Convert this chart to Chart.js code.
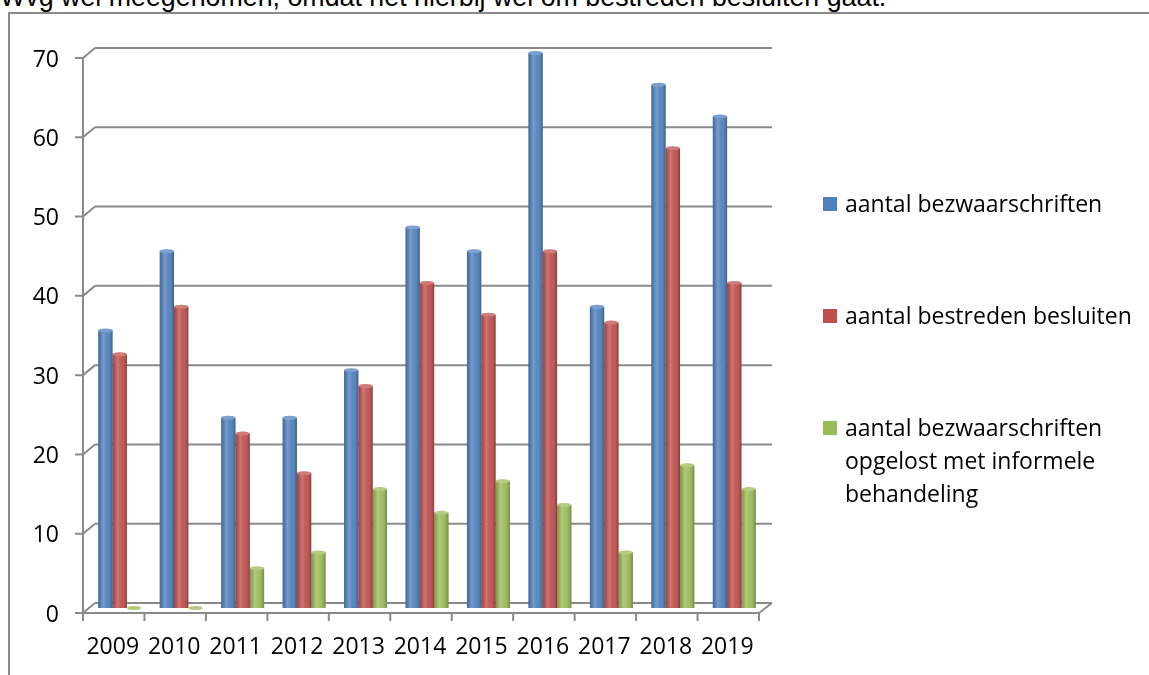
<!DOCTYPE html>
<html>
<head>
<meta charset="utf-8">
<script src="https://cdn.jsdelivr.net/npm/chart.js@4.4.1/dist/chart.umd.min.js"></script>
<style>
  html, body { margin: 0; padding: 0; background: #fff; overflow: hidden; }
  #wrap { position: relative; width: 1149px; height: 675px; overflow: hidden; }
  #title { position: absolute; left: 0; top: -18px; font: 26.8px "Liberation Sans", Arial, sans-serif; line-height: 30px; color: #000; white-space: nowrap; }
  #frame { position: absolute; left: 8px; top: 12px; width: 1300px; height: 800px; border: 2px solid #8a8a8a; box-sizing: border-box; }
  #chartBox { position: absolute; left: 0; top: 0; width: 1149px; height: 675px; }
  .leg { position: absolute; left: 823px; font: 23px "Open Sans", sans-serif; color: #000; line-height: 33px; }
  .leg i { position: absolute; left: 0; top: 10px; width: 14px; height: 14px; }
  .leg span { display: block; margin-left: 22px; }
</style>
</head>
<body>
<div id="wrap">
  <div id="frame"></div>
  <div id="title">Wvg wel meegenomen, omdat het hierbij wel om bestreden besluiten gaat.</div>
  <div id="chartBox"><canvas id="c"></canvas></div>
  <div id="legend"></div>
</div>
<script>
// data
const years = ['2009', '2010', '2011', '2012', '2013', '2014', '2015', '2016', '2017', '2018', '2019'];
const bezwaarschriften = [35, 45, 24, 24, 30, 48, 45, 70, 38, 66, 62];
const bestredenBesluiten = [32, 38, 22, 17, 28, 41, 37, 45, 36, 58, 41];
const informeelOpgelost = [0, 0, 5, 7, 15, 12, 16, 13, 7, 18, 15];
const yTicks = [0, 10, 20, 30, 40, 50, 60, 70];

const seriesNames = ['aantal bezwaarschriften', 'aantal bestreden besluiten', 'aantal bezwaarschriften opgelost met informele behandeling'];
const colors = ['#4F81BD', '#C0504D', '#9BBB59'];

// legend (html, because of the wrapped text and wide spacing)
const legendTops = [187, 299, 411];
const legendLines = [['aantal bezwaarschriften'], ['aantal bestreden besluiten'], ['aantal bezwaarschriften', 'opgelost met informele', 'behandeling']];
const legendEl = document.getElementById('legend');
legendLines.forEach((lines, i) => {
    const d = document.createElement('div');
    d.className = 'leg';
    d.style.top = legendTops[i] + 'px';
    d.innerHTML = '<i style="background:' + colors[i] + '"></i>' + lines.map(l => '<span>' + l + '</span>').join('');
    legendEl.appendChild(d);
});

const frontDx = -6, frontDy = 5;   // front plane offset
const backDx = 6, backDy = -5;     // back wall offset
const lineColor = '#8a8a8a';

// fake 3D walls, floor and ticks
const wallPlugin = {
    id: 'wall',
    beforeDatasetsDraw(chart) {
        const ctx = chart.ctx;
        const ca = chart.chartArea;
        const ys = chart.scales.y;
        ctx.save();
        ctx.strokeStyle = lineColor;
        ctx.lineWidth = 2;
        ctx.beginPath();
        yTicks.forEach(v => {
            const py = ys.getPixelForValue(v);
            ctx.moveTo(ca.left + backDx, py + backDy);
            ctx.lineTo(ca.right + backDx + 1, py + backDy);
            ctx.moveTo(ca.left + frontDx, py + frontDy);
            ctx.lineTo(ca.left + backDx, py + backDy);
            ctx.moveTo(ca.left + frontDx - 8, py + frontDy);
            ctx.lineTo(ca.left + frontDx, py + frontDy);
        });
        const y0 = ys.getPixelForValue(0);
        const yTop = ys.getPixelForValue(yTicks[yTicks.length - 1]);
        ctx.moveTo(ca.left + frontDx, yTop + frontDy);
        ctx.lineTo(ca.left + frontDx, y0 + frontDy);
        ctx.moveTo(ca.left + frontDx, y0 + frontDy);
        ctx.lineTo(ca.right + frontDx, y0 + frontDy);
        ctx.lineTo(ca.right + backDx + 1, y0 + backDy);
        const n = years.length;
        const step = (ca.right - ca.left) / n;
        for (let i = 0; i <= n; i++) {
            const px = ca.left + frontDx + i * step;
            ctx.moveTo(px, y0 + frontDy);
            ctx.lineTo(px, y0 + frontDy + 8);
        }
        ctx.stroke();
        ctx.restore();
    },
    afterDatasetsDraw(chart) {
        // cylinder-ish shading and top caps
        const ctx = chart.ctx;
        ctx.save();
        chart.data.datasets.forEach((ds, di) => {
            const meta = chart.getDatasetMeta(di);
            meta.data.forEach(bar => {
                const w = bar.width;
                const l = bar.x - w / 2;
                const h = bar.base - bar.y;
                if (h > 0) {
                    const g = ctx.createLinearGradient(l, 0, l + w, 0);
                    g.addColorStop(0, 'rgba(0,0,0,0.18)');
                    g.addColorStop(0.35, 'rgba(255,255,255,0.22)');
                    g.addColorStop(0.6, 'rgba(255,255,255,0.05)');
                    g.addColorStop(1, 'rgba(0,0,0,0.28)');
                    ctx.fillStyle = g;
                    ctx.fillRect(l, bar.y, w, h);
                }
                ctx.beginPath();
                ctx.ellipse(bar.x, bar.y, w / 2, 2, 0, 0, Math.PI * 2);
                ctx.fillStyle = colors[di];
                ctx.fill();
                ctx.fillStyle = 'rgba(255,255,255,0.25)';
                ctx.fill();
            });
        });
        ctx.restore();
    }
};

new Chart(document.getElementById('c'), {
    type: 'bar',
    data: {
        labels: years,
        datasets: [
            { label: seriesNames[0], data: bezwaarschriften, backgroundColor: colors[0] },
            { label: seriesNames[1], data: bestredenBesluiten, backgroundColor: colors[1] },
            { label: seriesNames[2], data: informeelOpgelost, backgroundColor: colors[2] }
        ]
    },
    options: {
        responsive: true,
        maintainAspectRatio: false,
        animation: false,
        layout: { padding: { left: 0, right: 384, top: 53, bottom: 0 } },
        datasets: { bar: { categoryPercentage: 0.7, barPercentage: 1.0 } },
        plugins: {
            legend: { display: false },
            tooltip: { enabled: false }
        },
        scales: {
            x: {
                grid: { display: false },
                border: { display: false },
                ticks: {
                    color: '#000',
                    font: { family: 'Open Sans', size: 23 },
                    padding: 18,
                    labelOffset: -7,
                    maxRotation: 0
                },
                afterFit(scale) { scale.height = 67; }
            },
            y: {
                min: 0,
                max: 70,
                grid: { display: false },
                border: { display: false },
                ticks: {
                    stepSize: 10,
                    color: '#000',
                    font: { family: 'Open Sans', size: 23 },
                    padding: 22,
                    labelOffset: 7
                },
                afterFit(scale) { scale.width = 89; }
            }
        }
    },
    plugins: [wallPlugin]
});
</script>
</body>
</html>
